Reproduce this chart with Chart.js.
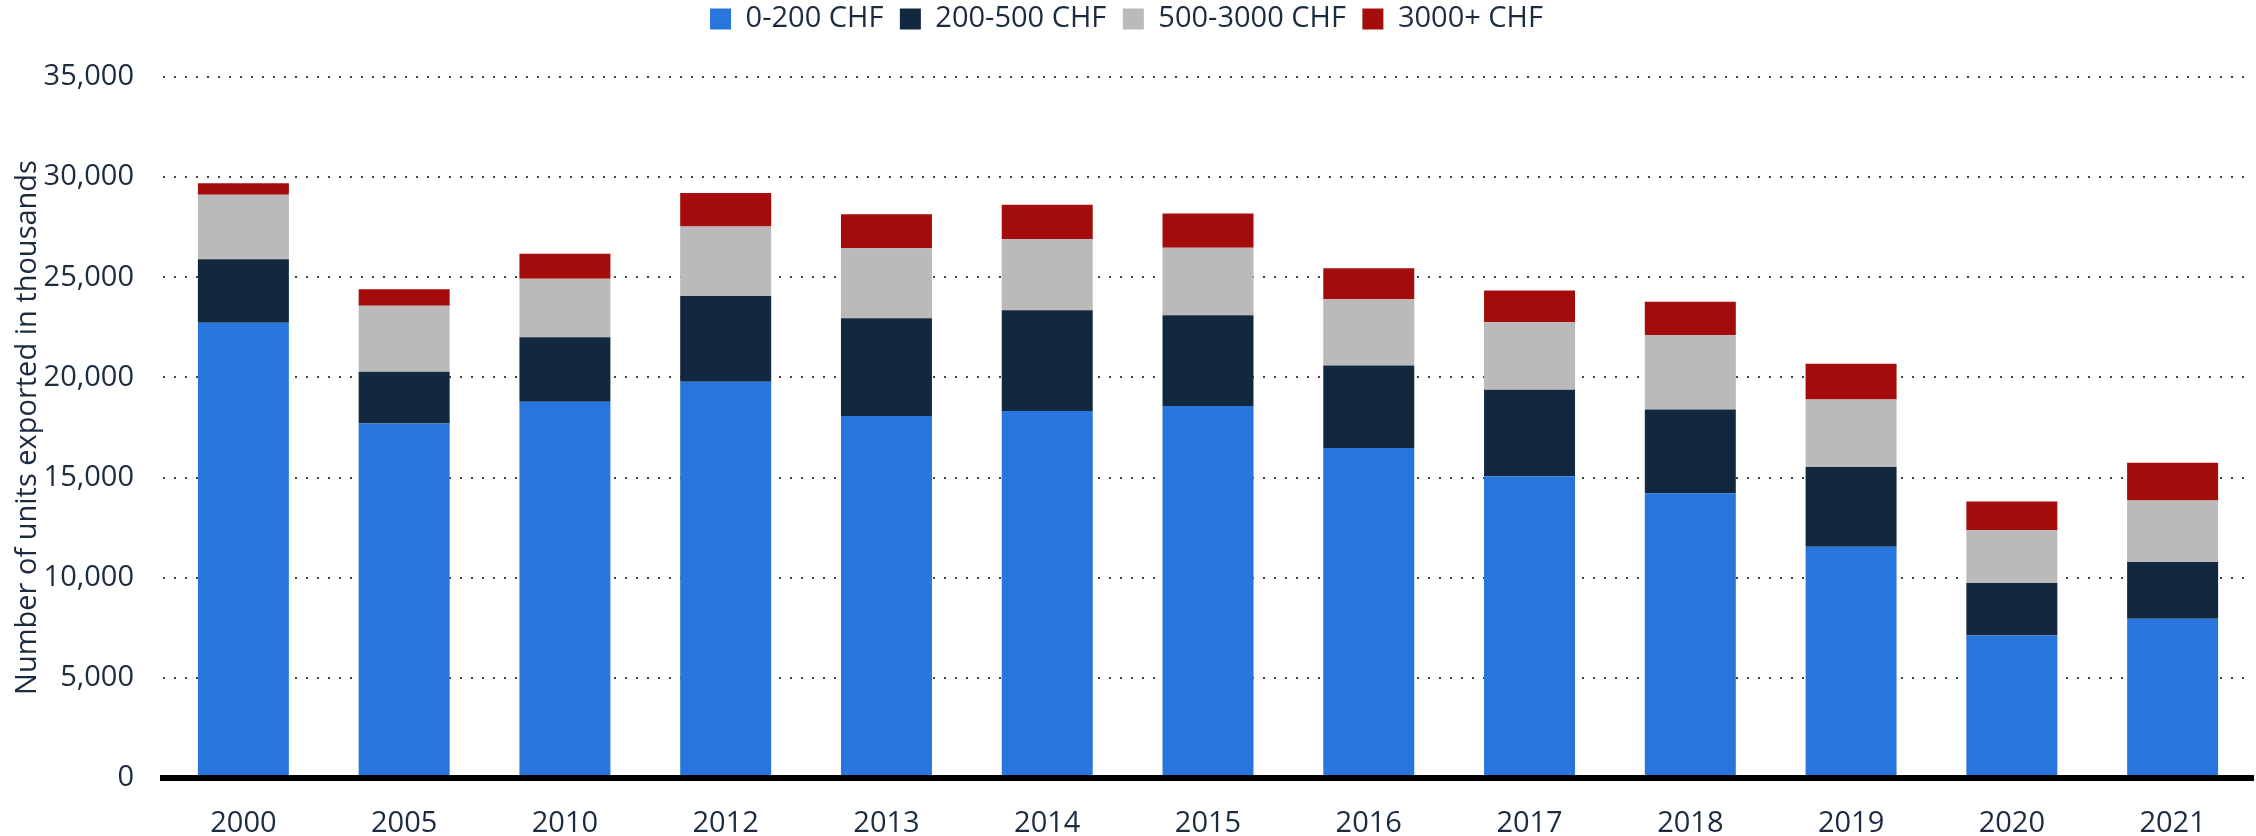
<!DOCTYPE html>
<html>
<head>
<meta charset="utf-8">
<script src="https://cdn.jsdelivr.net/npm/chart.js@4.4.0/dist/chart.umd.min.js"></script>
<style>
    html, body { margin: 0; padding: 0; background: #fff; }
    #wrap { width: 2256px; height: 836px; position: relative; }
</style>
</head>
<body>
<div id="wrap"><canvas id="exports"></canvas></div>
<script>
// values, thousands of units
const years = ["2000", "2005", "2010", "2012", "2013", "2014", "2015", "2016", "2017", "2018", "2019", "2020", "2021"];
const chf0to200 = [22730, 17700, 18780, 19780, 18080, 18330, 18570, 16480, 15070, 14220, 11550, 7120, 7950];
const chf200to500 = [3170, 2580, 3220, 4280, 4870, 5020, 4530, 4120, 4310, 4180, 3980, 2620, 2830];
const chf500to3000 = [3220, 3300, 2930, 3480, 3500, 3550, 3380, 3300, 3380, 3700, 3370, 2630, 3080];
const chf3000plus = [580, 820, 1250, 1670, 1700, 1720, 1700, 1550, 1580, 1680, 1780, 1430, 1880];

const textColor = "#1b2b40";
Chart.defaults.font.family = "'Open Sans', sans-serif";
Chart.defaults.font.size = 29;
Chart.defaults.color = textColor;

// push the plot down below the legend
const legendSpace = {
    id: "legendSpace",
    beforeInit(chart) {
        const fit = chart.legend.fit;
        chart.legend.fit = function () {
            fit.bind(chart.legend)();
            this.height = 89;
        };
    }
};

function bar(label, data, color) {
    return {
        label: label,
        data: data,
        backgroundColor: color,
        borderWidth: 0,
        barPercentage: 0.566,
        categoryPercentage: 1
    };
}

new Chart(document.getElementById("exports"), {
    type: "bar",
    data: {
        labels: years,
        datasets: [
            bar("0-200 CHF", chf0to200, "#2876dd"),
            bar("200-500 CHF", chf200to500, "#12283f"),
            bar("500-3000 CHF", chf500to3000, "#bababa"),
            bar("3000+ CHF", chf3000plus, "#a50c0c")
        ]
    },
    options: {
        responsive: true,
        maintainAspectRatio: false,
        animation: false,
        devicePixelRatio: 1,
        layout: { padding: { top: -12, right: 3, left: 0, bottom: 0 } },
        plugins: {
            legend: {
                position: "top",
                labels: {
                    boxWidth: 21,
                    boxHeight: 21,
                    padding: 16.5,
                    color: textColor,
                    font: { size: 29 }
                }
            },
            tooltip: { enabled: false }
        },
        scales: {
            x: {
                stacked: true,
                grid: { display: false },
                border: { display: true, color: "#000", width: 6, z: 1 },
                ticks: { padding: 20, color: textColor, maxRotation: 0 },
                afterFit(scale) { scale.height = 58; }
            },
            y: {
                stacked: true,
                min: 0,
                max: 35000,
                ticks: { stepSize: 5000, padding: 29, color: textColor },
                grid: { color: "#444", lineWidth: 2, drawTicks: false },
                border: { display: false, dash: [2, 9] },
                title: {
                    display: true,
                    text: "Number of units exported in thousands",
                    color: textColor,
                    font: { size: 29 },
                    padding: { top: 10, bottom: 0 }
                },
                afterFit(scale) { scale.width = 163; }
            }
        }
    },
    plugins: [legendSpace]
});
</script>
</body>
</html>
